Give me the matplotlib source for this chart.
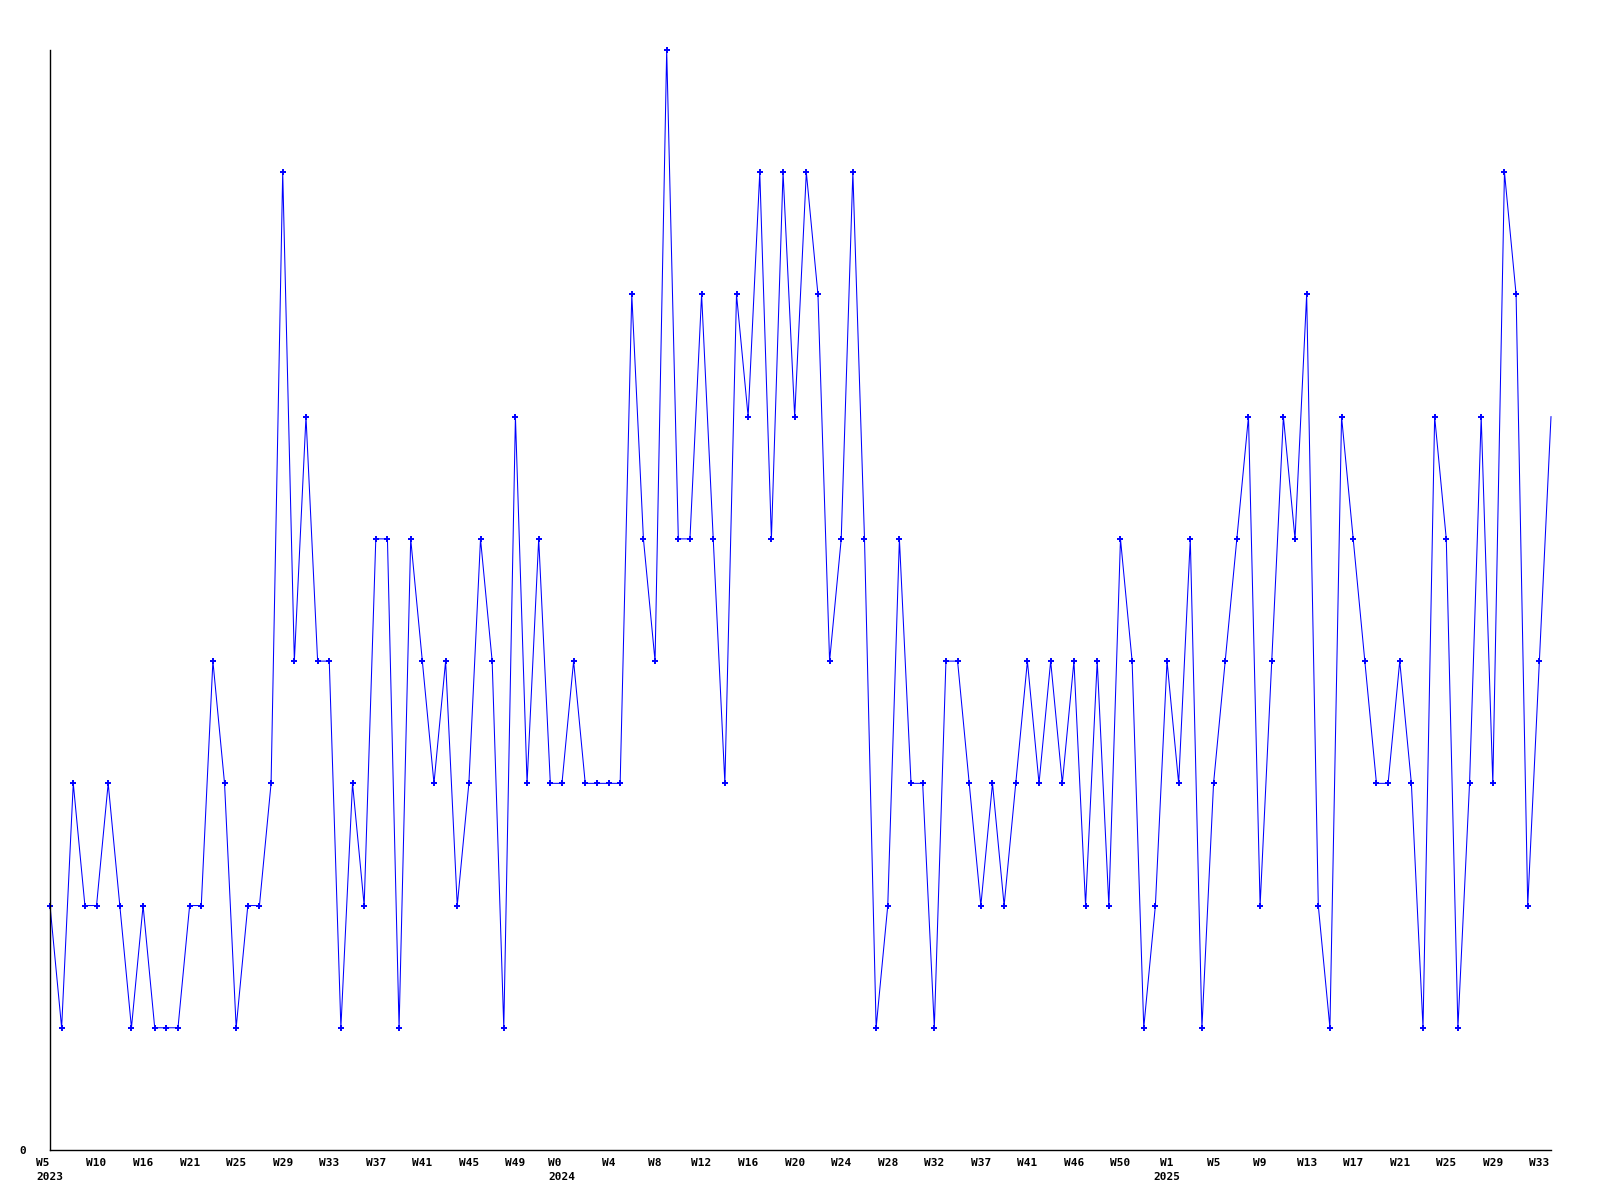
import matplotlib
matplotlib.use("Agg")
import matplotlib.pyplot as plt

# weekly counts
values = [2, 1, 3, 2, 2, 3, 2, 1, 2, 1,
          1, 1, 2, 2, 4, 3, 1, 2, 2, 3,
          8, 4, 6, 4, 4, 1, 3, 2, 5, 5,
          1, 5, 4, 3, 4, 2, 3, 5, 4, 1,
          6, 3, 5, 3, 3, 4, 3, 3, 3, 3,
          7, 5, 4, 9, 5, 5, 7, 5, 3, 7,
          6, 8, 5, 8, 6, 8, 7, 4, 5, 8,
          5, 1, 2, 5, 3, 3, 1, 4, 4, 3,
          2, 3, 2, 3, 4, 3, 4, 3, 4, 2,
          4, 2, 5, 4, 1, 2, 4, 3, 5, 1,
          3, 4, 5, 6, 2, 4, 6, 5, 7, 2,
          1, 6, 5, 4, 3, 3, 4, 3, 1, 6,
          5, 1, 3, 6, 3, 8, 7, 2, 4, 6]

# one label every 4 weeks
week_labels = ["W5\n2023", "W10", "W16", "W21", "W25", "W29", "W33", "W37",
               "W41", "W45", "W49", "W0\n2024", "W4", "W8", "W12", "W16",
               "W20", "W24", "W28", "W32", "W37", "W41", "W46", "W50",
               "W1\n2025", "W5", "W9", "W13", "W17", "W21", "W25", "W29", "W33"]
label_step = 4

x = list(range(len(values)))

fig = plt.figure(figsize=(16, 12), dpi=100)
ax = fig.add_axes([50 / 1600, 50 / 1200, 1501 / 1600, 1100 / 1200])

# last point sits on the right edge, no marker there
ax.plot(x, values, color="#0000ff", linewidth=0.75,
        marker="+", markersize=5, markeredgewidth=1.4,
        markevery=list(range(len(values) - 1)), clip_on=False)

ax.set_xlim(0, len(values) - 1)
ax.set_ylim(0, max(values))

# axes: only left and bottom lines
for side in ["top", "right"]:
    ax.spines[side].set_visible(False)
for side in ["left", "bottom"]:
    ax.spines[side].set_color("black")
    ax.spines[side].set_linewidth(1.0)

tick_font = dict(family="DejaVu Sans Mono", weight="bold", size=8)

ax.set_xticks(x[::label_step][:len(week_labels)])
ax.set_xticklabels(week_labels, linespacing=1.45, **tick_font)
for lbl in ax.get_xticklabels():
    if "\n" in lbl.get_text() and not lbl.get_text().startswith("W1\n"):
        lbl.set_multialignment("left")
ax.tick_params(axis="x", length=0, pad=6)

ax.set_yticks([0])
ax.set_yticklabels(["0"], **tick_font)
ax.tick_params(axis="y", length=0, pad=17)

fig.savefig("out.png", dpi=100, facecolor="white")
